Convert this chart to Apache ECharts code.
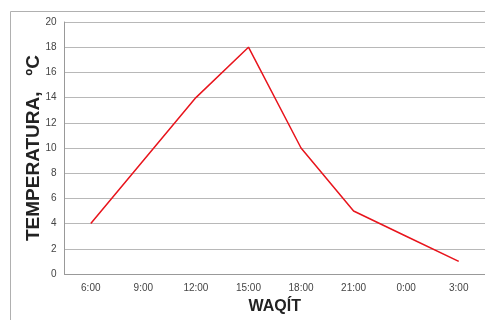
<!DOCTYPE html>
<html><head><meta charset="utf-8">
<script src="https://cdn.jsdelivr.net/npm/echarts@6/dist/echarts.min.js"></script>
<style>html,body{margin:0;padding:0;background:#fff}#c{width:485px;height:320px}</style>
</head><body><div id="c"></div>
<script>
const categories = ['6:00','9:00','12:00','15:00','18:00','21:00','0:00','3:00'];
const temperature = [4, 9, 14, 18, 10, 5, 3, 1];
const yTicks = {min: 0, max: 20, interval: 2};

const chart = echarts.init(document.getElementById('c'), null, {renderer: 'canvas'});
chart.setOption({
  animation: false,
  backgroundColor: '#fff',
  graphic: [{type: 'rect', shape: {x: 10.5, y: 11.5, width: 490, height: 320},
    style: {fill: 'none', stroke: '#b0b0b0', lineWidth: 1}, silent: true}],
  grid: {left: 64.5, right: 0, top: 22, bottom: 46, containLabel: false, outerBoundsMode: 'none'},
  xAxis: {
    type: 'category', data: categories, boundaryGap: true,
    name: 'WAQÍT', nameLocation: 'middle', nameGap: 25, nameMoveOverlap: false,
    nameTextStyle: {fontFamily: 'Liberation Sans', fontWeight: 'bold', fontSize: 16, color: '#222'},
    axisLine: {lineStyle: {color: '#999', width: 1}},
    axisTick: {show: false},
    axisLabel: {fontFamily: 'Liberation Sans', fontSize: 10, color: '#444', margin: 9}
  },
  yAxis: {
    type: 'value', min: yTicks.min, max: yTicks.max, interval: yTicks.interval,
    name: 'TEMPERATURA,   ºC', nameLocation: 'middle', nameGap: 21, nameMoveOverlap: false,
    nameTextStyle: {fontFamily: 'Liberation Sans', fontWeight: 'bold', fontSize: 19, color: '#222'},
    axisLine: {show: true, lineStyle: {color: '#999', width: 1}},
    axisTick: {show: false},
    splitLine: {lineStyle: {color: '#b8b8b8', width: 1}},
    axisLabel: {fontFamily: 'Liberation Sans', fontSize: 10, color: '#444', margin: 8}
  },
  series: [{
    type: 'line', data: temperature, symbol: 'none',
    lineStyle: {color: '#e8141c', width: 1.5}
  }]
});
</script></body></html>
